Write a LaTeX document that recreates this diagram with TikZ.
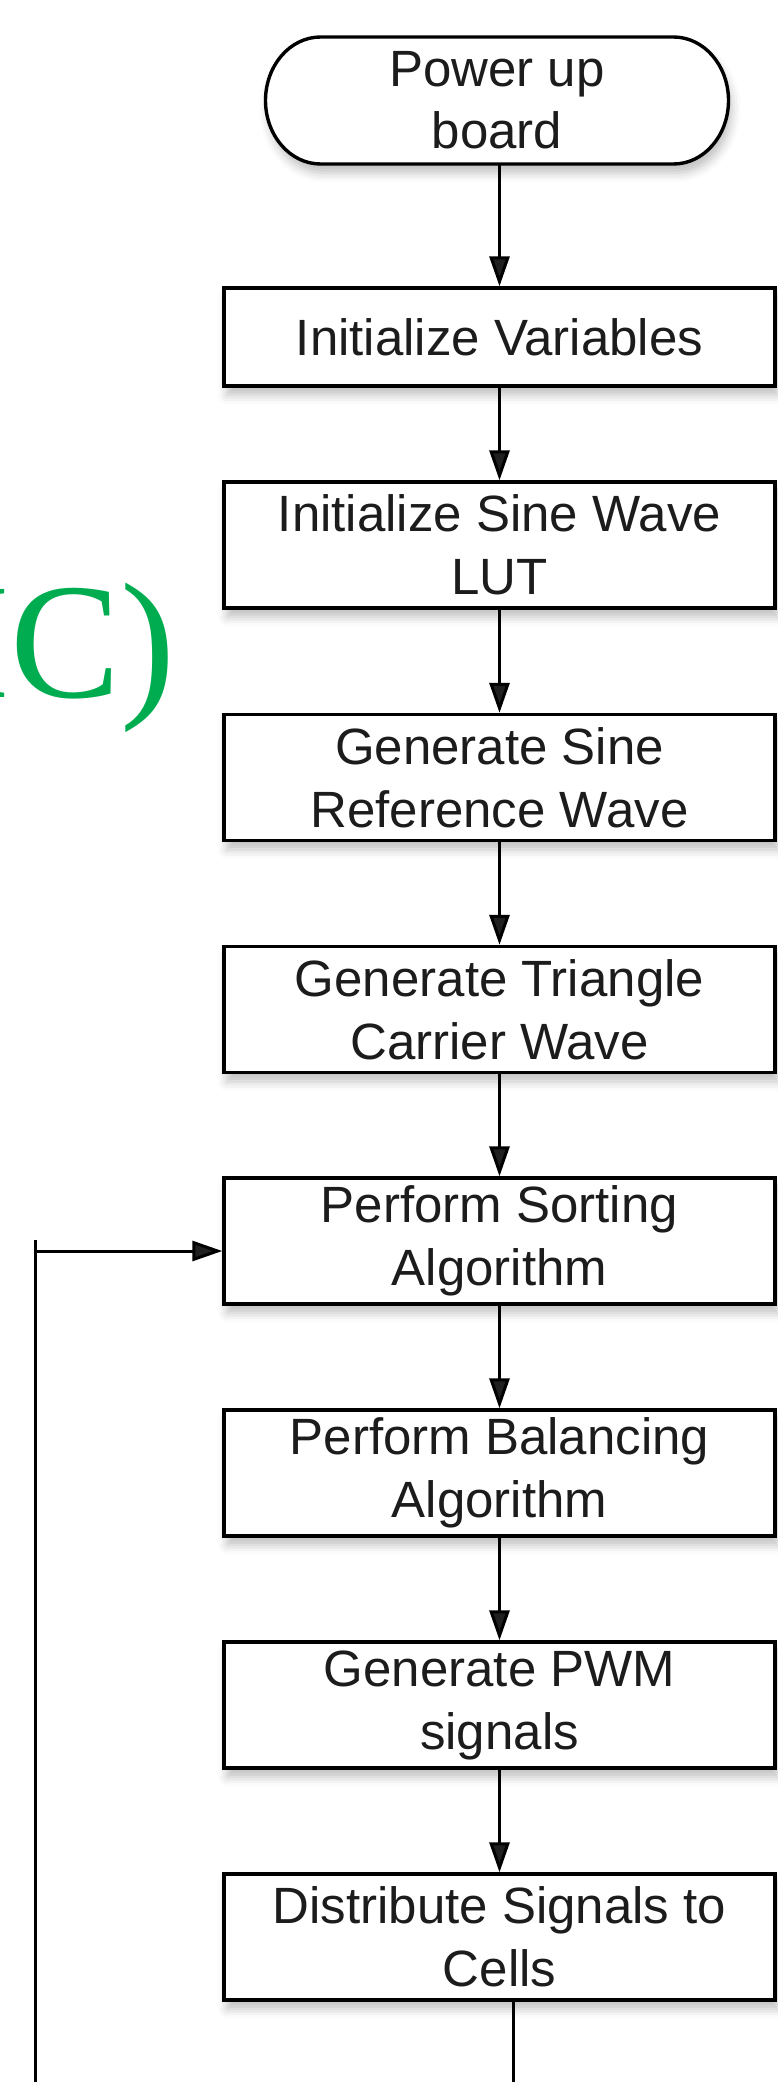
\documentclass[tikz,border=0pt]{standalone}
\usepackage{fontspec}
\setmainfont{Liberation Sans}
\newfontfamily\tagfont{Liberation Serif}
\usetikzlibrary{arrows.meta,shadows.blur}
\definecolor{taggreen}{RGB}{0,172,80}
\definecolor{inkgray}{RGB}{28,28,28}

\begin{document}
\begin{tikzpicture}[x=1pt,y=-1pt,
  every node/.style={inner sep=0pt},
  softshadow/.style={blur shadow={shadow xshift=3pt,shadow yshift=-9pt,shadow blur radius=9pt,shadow opacity=25}},
  stepbox/.style={draw=black, line width=3.4pt, fill=white,
    minimum width=551pt, minimum height=126pt, align=center,
    text=inkgray, font=\fontsize{51}{63}\selectfont, softshadow},
  flow/.style={line width=3pt, -{Triangle[length=30pt,width=20pt]}},
  plain/.style={line width=3pt}
]
\useasboundingbox (0,0) rectangle (777,2082);

% partly visible panel tag on the left
\begin{scope}
  \clip (0,0) rectangle (777,2082);
  \node[anchor=base west, text=taggreen,
        font=\tagfont\fontsize{165}{165}\selectfont] (tag) at (-45,697) {IC)};
\end{scope}

% start terminal: stadium outline with elliptic ends, label on top
\draw[line width=3.4pt, fill=white, softshadow]
  (320.5,37) -- (673.5,37)
  arc[start angle=90, end angle=-90, x radius=55pt, y radius=63.5pt]
  -- (320.5,164)
  arc[start angle=270, end angle=90, x radius=55pt, y radius=63.5pt]
  -- cycle;
\node[minimum width=463pt, minimum height=127pt, align=center, text=inkgray,
      font=\fontsize{51}{62}\selectfont] (power) at (497,100.5) {Power up\\board};

% process steps
\node[stepbox, minimum height=98pt] (initvar) at (499.5,337) {Initialize Variables};
\node[stepbox] (lut)  at (499.5,545)   {Initialize Sine Wave\\LUT};
\node[stepbox] (sine) at (499.5,777.5) {Generate Sine\\Reference Wave};
\node[stepbox] (tri)  at (499.5,1009.5) {Generate Triangle\\Carrier Wave};
\node[stepbox] (sort) at (499.5,1241)  {Perform Sorting\\Algorithm};
\node[stepbox] (bal)  at (499.5,1473)  {Perform Balancing\\Algorithm};
\node[stepbox] (pwm)  at (499.5,1705)  {Generate PWM\\signals};
\node[stepbox] (dist) at (499.5,1937)  {Distribute Signals to\\Cells};

% main flow
\draw[flow] (initvar.north |- power.south) -- (initvar.north);
\draw[flow] (initvar) -- (lut);
\draw[flow] (lut) -- (sine);
\draw[flow] (sine) -- (tri);
\draw[flow] (tri) -- (sort);
\draw[flow] (sort) -- (bal);
\draw[flow] (bal) -- (pwm);
\draw[flow] (pwm) -- (dist);

% return loop back to the sorting step
\coordinate (tailend) at (513,2082);
\draw[plain] (tailend |- dist.south) -- (tailend);
\coordinate (looptop) at (35,1240);
\coordinate (loopbot) at (35,2082);
\draw[plain] (looptop) -- (loopbot);
\coordinate (loopjoin) at (37,1251);
\draw[flow] (loopjoin) -- (loopjoin -| sort.west);
\end{tikzpicture}
\end{document}
